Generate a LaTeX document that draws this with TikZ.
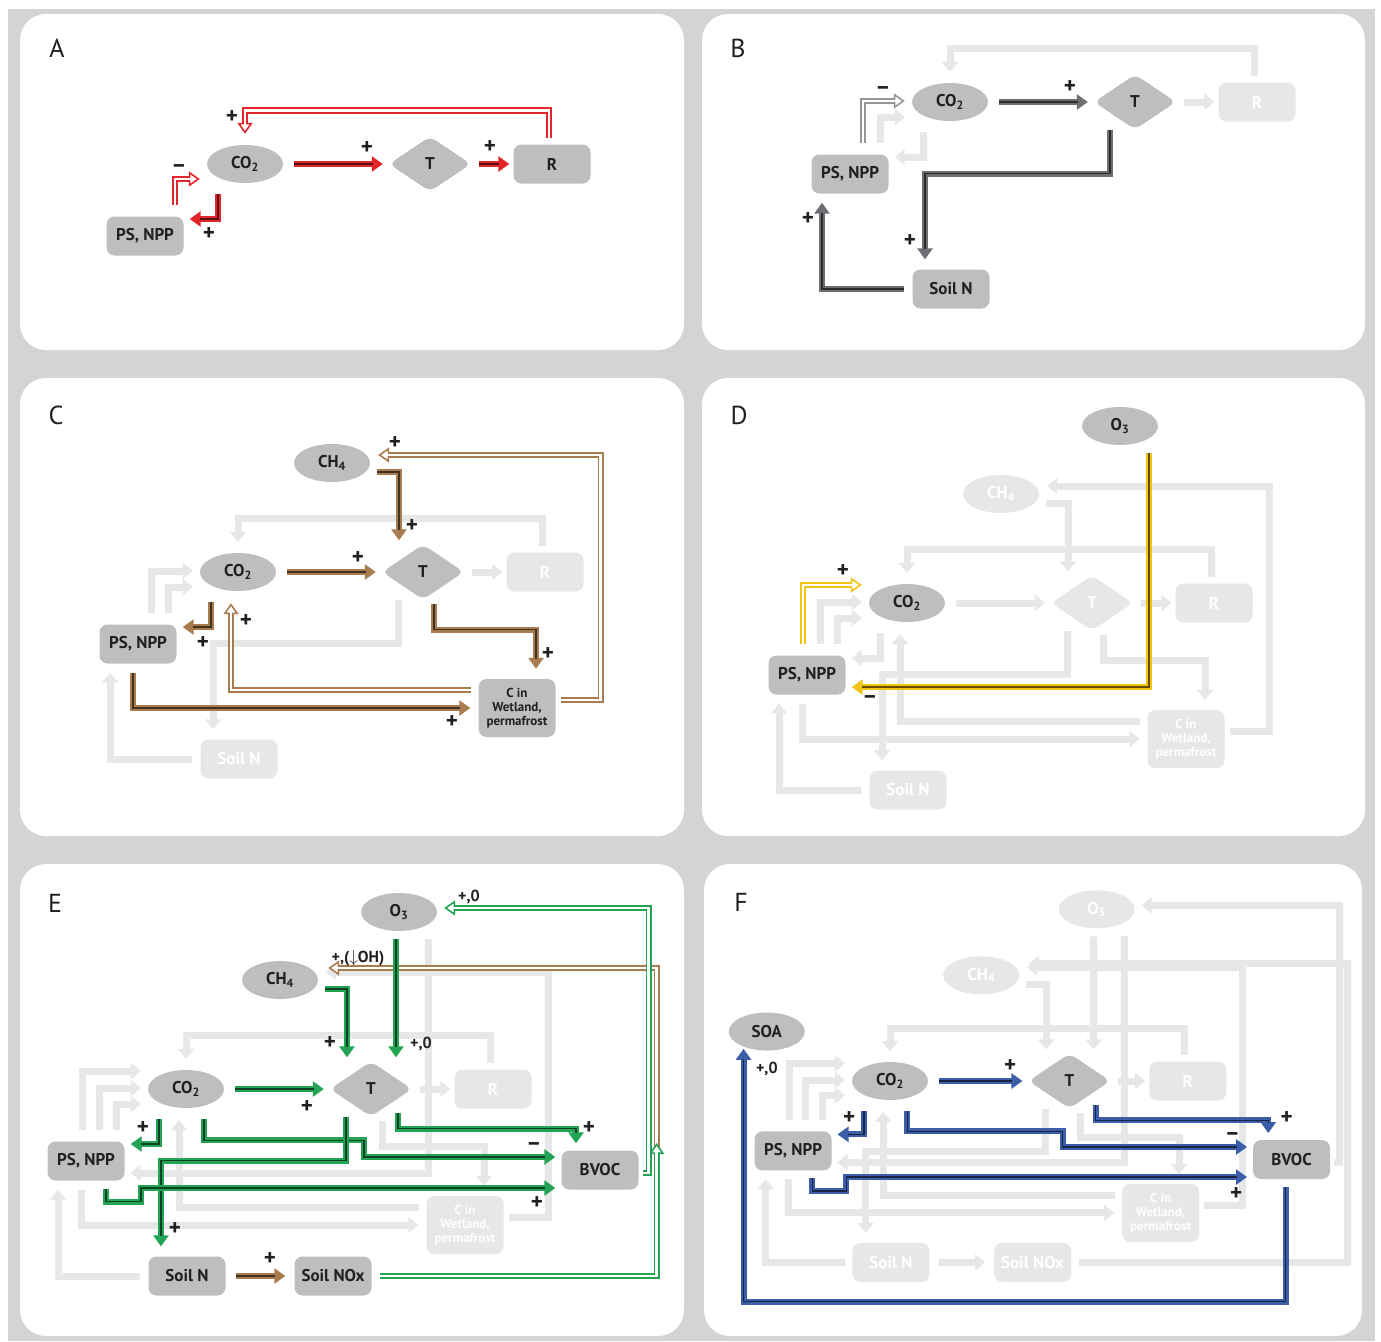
\documentclass[tikz,border=0pt]{standalone}
\usepackage{fontspec}
\setmainfont{PT Sans}
\usepackage{xcolor}
\usepackage{tikz}
\usetikzlibrary{shapes.geometric,arrows.meta}

\definecolor{frame}{HTML}{D3D4D6}
\definecolor{ndgray}{HTML}{BCBEC0}
\definecolor{fgray}{HTML}{E6E7E8}
\definecolor{ink}{HTML}{231F20}
\definecolor{fbred}{HTML}{E2252B}
\definecolor{fbgray}{HTML}{6D6E71}
\definecolor{fbgrayl}{HTML}{939598}
\definecolor{fbbrown}{HTML}{A97C50}
\definecolor{fbyellow}{HTML}{F4C414}
\definecolor{fbgreen}{HTML}{23A455}
\definecolor{fbblue}{HTML}{3C5DA8}

\tikzset{
  nd/.style={fill=ndgray, text=ink, font=\bfseries\fontsize{17}{18}\selectfont, inner sep=0pt},
  rbox/.style={nd, rectangle, rounded corners=8pt, minimum width=77pt, minimum height=39pt},
  oval/.style={nd, ellipse, minimum width=76pt, minimum height=38pt},
  dia/.style={nd, diamond, rounded corners=7pt, minimum width=82pt, minimum height=55pt},
  wet/.style={rbox, minimum height=58pt, align=center, font=\bfseries\fontsize{13}{14}\selectfont},
  pale/.style={fill=fgray, text=white},
  sg/.style={font=\bfseries\fontsize{23}{23}\selectfont, text=ink, inner sep=0pt},
  sgs/.style={font=\bfseries\fontsize{16}{16}\selectfont, text=ink, inner sep=0pt},
  panel/.style={fill=white, rounded corners=26pt},
  letter/.style={font=\fontsize{26}{26}\selectfont, text=ink, inner sep=0pt},
  fnt/.style={draw=fgray, line width=7pt, -{Triangle[length=10pt,width=16pt]}},
  sol/.style={draw=#1, line width=6pt, -{Triangle[length=11pt,width=15pt]},
    postaction={draw=#1!40!black, line width=1.4pt, -, shorten >=10pt}},
  hol/.style={draw=#1, line width=6.4pt, -{Triangle[length=11pt,width=15pt,open,fill=white,line width=1.6pt]},
    postaction={draw=white, line width=2.6pt, -, shorten >=8pt}},
}

\begin{document}
\begin{tikzpicture}[x=1pt, y=-1pt]
    \useasboundingbox (0,0) rectangle (1381,1341);
    \fill[white] (0,0) rectangle (1381,1341);
    \fill[frame] (8,9) rectangle (1375,1341);
    \fill[panel] (20,14) rectangle (684,350);
    \fill[panel] (702,14) rectangle (1365,350);
    \fill[panel] (20,378) rectangle (684,836);
    \fill[panel] (702,378) rectangle (1365,836);
    \fill[panel] (20,864) rectangle (684,1336);
    \fill[panel] (704,864) rectangle (1362,1336);
    \node (tagA) [letter] at (57,48) {A};
    \node (tagB) [letter] at (738,48) {B};
    \node (tagC) [letter] at (56,415) {C};
    \node (tagD) [letter] at (739,415) {D};
    \node (tagE) [letter] at (55,903) {E};
    \node (tagF) [letter] at (741,902) {F};

    \begin{scope}[shift={(245,164)}]
        \node (aCO) [oval] at (0,0) {CO\textsubscript{2}};
        \node (aT) [dia] at (185,0) {T};
        \node (aR) [rbox] at (307,0) {R};
        \node (aPS) [rbox] at (-100,72) {PS, NPP};
        \draw [sol=fbred] ([xshift=11]aCO.east) -- ([xshift=-6]aT.west);
        \draw [sol=fbred] ([xshift=8]aT.east) -- ([xshift=-4]aR.west);
        \draw [hol=fbred] ([xshift=-3,yshift=6]aR.north) -- ++(0,-28) -| ([yshift=11]aCO.north);
        \draw [hol=fbred] ([xshift=30,yshift=11]aPS.north) |- ([xshift=-7,yshift=-15]aCO.west);
        \draw [sol=fbred] ([xshift=-27,yshift=-11]aCO.south) |- ([xshift=6,yshift=17]aPS.east);
        \node (aL1) [sg] at (122,-16) {+};
        \node (aL2) [sg] at (245,-17) {+};
        \node (aL3) [sg] at (-13,-47) {+};
        \node (aL4) [sg] at (-66,5) {–};
        \node (aL5) [sg] at (-36,70) {+};
    \end{scope}

    \begin{scope}[shift={(950,102)}]
        \node (bCO) [oval] at (0,0) {CO\textsubscript{2}};
        \node (bT) [dia] at (185,0) {T};
        \node (bR) [rbox, pale] at (307,0) {R};
        \node (bPS) [rbox] at (-100,72) {PS, NPP};
        \node (bN) [rbox] at (1,187) {Soil N};
        \draw [fnt] ([xshift=8]bT.east) -- ([xshift=-4]bR.west);
        \draw [fnt] ([xshift=-3,yshift=6]bR.north) -- ++(0,-28) -| ([yshift=11]bCO.north);
        \draw [fnt] ([xshift=30,yshift=11]bPS.north) |- ([xshift=-7,yshift=-15]bCO.west);
        \draw [fnt] ([xshift=-27,yshift=-11]bCO.south) |- ([xshift=6,yshift=17]bPS.east);
        \draw [sol=fbgray] ([xshift=11]bCO.east) -- ([xshift=-6]bT.west);
        \draw [hol=fbgrayl] ([xshift=13,yshift=11]bPS.north) |- ([xshift=-7,yshift=1]bCO.west);
        \draw [sol=fbgray] ([xshift=-25]bT.south) -- ++(0,44) -| ([xshift=-26,yshift=10]bN.north);
        \draw [sol=fbgray] ([xshift=-8]bN.west) -| ([xshift=-28,yshift=-9]bPS.south);
        \node (bL1) [sg] at (120,-15) {+};
        \node (bL2) [sg] at (-67,-11) {–};
        \node (bL3) [sg] at (-40,139) {+};
        \node (bL4) [sg] at (-142,117) {+};
    \end{scope}

    \begin{scope}[shift={(238,572)}]
        \node (cCH) [oval] at (94,-109) {CH\textsubscript{4}};
        \node (cCO) [oval] at (0,0) {CO\textsubscript{2}};
        \node (cT) [dia] at (185,0) {T};
        \node (cR) [rbox, pale] at (307,0) {R};
        \node (cPS) [rbox] at (-100,72) {PS, NPP};
        \node (cW) [wet] at (279,136) {C in\\Wetland,\\permafrost};
        \node (cN) [rbox, pale] at (1,187) {Soil N};
        \draw [fnt] ([xshift=8]cT.east) -- ([xshift=-4]cR.west);
        \draw [fnt] ([xshift=-3,yshift=6]cR.north) -- ++(0,-28) -| ([yshift=11]cCO.north);
        \draw [fnt] ([xshift=13,yshift=11]cPS.north) |- ([xshift=-7,yshift=1]cCO.west);
        \draw [fnt] ([xshift=30,yshift=11]cPS.north) |- ([xshift=-7,yshift=-15]cCO.west);
        \draw [fnt] ([xshift=-25]cT.south) -- ++(0,44) -| ([xshift=-26,yshift=10]cN.north);
        \draw [fnt] ([xshift=-8]cN.west) -| ([xshift=-28,yshift=-9]cPS.south);
        \draw [sol=fbbrown] ([xshift=11]cCO.east) -- ([xshift=-6]cT.west);
        \draw [sol=fbbrown] ([xshift=7,yshift=-9]cCH.east) -| ([xshift=-24,yshift=4]cT.north);
        \draw [hol=fbbrown] ([xshift=5,yshift=8]cW.east) -- ++(40,0) |- ([xshift=8,yshift=8]cCH.east);
        \draw [sol=fbbrown] ([xshift=-27,yshift=-11]cCO.south) |- ([xshift=6,yshift=17]cPS.east);
        \draw [hol=fbbrown] ([xshift=-7,yshift=18]cW.west) -| ([xshift=-7,yshift=-12]cCO.south);
        \draw [sol=fbbrown] ([xshift=11,yshift=-4]cT.south) -- ++(0,26) -| ([xshift=19,yshift=10]cW.north);
        \draw [sol=fbbrown] ([xshift=-5,yshift=-9]cPS.south) |- ([xshift=-8]cW.west);
        \node (cL1) [sg] at (120,-14) {+};
        \node (cL2) [sg] at (174,-46) {+};
        \node (cL3) [sg] at (157,-129) {+};
        \node (cL4) [sg] at (-35,71) {+};
        \node (cL5) [sg] at (8,49) {+};
        \node (cL6) [sg] at (310,82) {+};
        \node (cL7) [sg] at (214,150) {+};
    \end{scope}

    \begin{scope}[shift={(907,603)}]
        \node (dO3) [oval] at (213,-177) {O\textsubscript{3}};
        \node (dCH) [oval, pale] at (94,-109) {CH\textsubscript{4}};
        \node (dCO) [oval] at (0,0) {CO\textsubscript{2}};
        \node (dT) [dia, pale] at (185,0) {T};
        \node (dR) [rbox, pale] at (307,0) {R};
        \node (dPS) [rbox] at (-100,72) {PS, NPP};
        \node (dW) [wet, pale] at (279,136) {C in\\Wetland,\\permafrost};
        \node (dN) [rbox, pale] at (1,187) {Soil N};
        \draw [fnt] ([xshift=11]dCO.east) -- ([xshift=-6]dT.west);
        \draw [fnt] ([xshift=8]dT.east) -- ([xshift=-4]dR.west);
        \draw [fnt] ([xshift=-3,yshift=6]dR.north) -- ++(0,-28) -| ([yshift=11]dCO.north);
        \draw [fnt] ([xshift=13,yshift=11]dPS.north) |- ([xshift=-7,yshift=1]dCO.west);
        \draw [fnt] ([xshift=30,yshift=11]dPS.north) |- ([xshift=-7,yshift=-15]dCO.west);
        \draw [fnt] ([xshift=-27,yshift=-11]dCO.south) |- ([xshift=6,yshift=17]dPS.east);
        \draw [fnt] ([xshift=-25]dT.south) -- ++(0,44) -| ([xshift=-26,yshift=10]dN.north);
        \draw [fnt] ([xshift=-8]dN.west) -| ([xshift=-28,yshift=-9]dPS.south);
        \draw [fnt] ([xshift=7,yshift=-9]dCH.east) -| ([xshift=-24,yshift=4]dT.north);
        \draw [fnt] ([xshift=5,yshift=8]dW.east) -- ++(40,0) |- ([xshift=8,yshift=8]dCH.east);
        \draw [fnt] ([xshift=11,yshift=-4]dT.south) -- ++(0,26) -| ([xshift=19,yshift=10]dW.north);
        \draw [fnt] ([xshift=-7,yshift=18]dW.west) -| ([xshift=-7,yshift=-12]dCO.south);
        \draw [fnt] ([xshift=-5,yshift=-9]dPS.south) |- ([xshift=-8]dW.west);
        \draw [sol=fbyellow] ([xshift=29,yshift=-8]dO3.south) |- ([xshift=6,yshift=-12]dPS.east);
        \draw [hol=fbyellow] ([xshift=-4,yshift=11]dPS.north) |- ([xshift=-7,yshift=18]dCO.west);
        \node (dL1) [sg] at (-37,97) {–};
        \node (dL2) [sg] at (-64,-32) {+};
    \end{scope}

    \begin{scope}[shift={(186,1089)}]
        \node (eO3) [oval] at (213,-177) {O\textsubscript{3}};
        \node (eCH) [oval] at (94,-109) {CH\textsubscript{4}};
        \node (eCO) [oval] at (0,0) {CO\textsubscript{2}};
        \node (eT) [dia] at (185,0) {T};
        \node (eR) [rbox, pale] at (307,0) {R};
        \node (ePS) [rbox] at (-100,72) {PS, NPP};
        \node (eBV) [rbox] at (414,81) {BVOC};
        \node (eW) [wet, pale] at (279,136) {C in\\Wetland,\\permafrost};
        \node (eN) [rbox] at (1,187) {Soil N};
        \node (eNO) [rbox] at (147,187) {Soil NOx};
        \draw [fnt] ([xshift=8]eT.east) -- ([xshift=-4]eR.west);
        \draw [fnt] ([xshift=-3,yshift=6]eR.north) -- ++(0,-28) -| ([yshift=11]eCO.north);
        \draw [fnt] ([xshift=-4,yshift=11]ePS.north) |- ([xshift=-7,yshift=18]eCO.west);
        \draw [fnt] ([xshift=13,yshift=11]ePS.north) |- ([xshift=-7,yshift=1]eCO.west);
        \draw [fnt] ([xshift=30,yshift=11]ePS.north) |- ([xshift=-7,yshift=-15]eCO.west);
        \draw [fnt] ([xshift=-8]eN.west) -| ([xshift=-28,yshift=-9]ePS.south);
        \draw [fnt] ([xshift=5,yshift=8]eW.east) -- ++(40,0) |- ([xshift=8,yshift=8]eCH.east);
        \draw [fnt] ([xshift=11,yshift=-4]eT.south) -- ++(0,26) -| ([xshift=19,yshift=10]eW.north);
        \draw [fnt] ([xshift=-7,yshift=18]eW.west) -| ([xshift=-7,yshift=-12]eCO.south);
        \draw [fnt] ([xshift=-5,yshift=-9]ePS.south) |- ([xshift=-8]eW.west);
        \draw [fnt] ([xshift=29,yshift=-8]eO3.south) |- ([xshift=6,yshift=-12]ePS.east);
        \draw [hol=fbbrown] ([xshift=8]eNO.east) -- ++(277,0) |- ([xshift=10,yshift=12]eCH.east);
        \draw [hol=fbgreen] ([xshift=8]eNO.east) -- ++(277,0) -- ++(0,-133);
        \draw [hol=fbgreen] ([xshift=4,yshift=-3]eBV.east) -- ++(6,0) |- ([xshift=7,yshift=4]eO3.east);
        \draw [sol=fbgreen] ([xshift=11]eCO.east) -- ([xshift=-6]eT.west);
        \draw [sol=fbgreen] ([xshift=7,yshift=-9]eCH.east) -| ([xshift=-24,yshift=4]eT.north);
        \draw [sol=fbgreen] ([xshift=-3,yshift=-8]eO3.south) -- ([xshift=25,yshift=4]eT.north);
        \draw [sol=fbgreen] ([xshift=27,yshift=4]eT.south) -- ++(0,16) -| ([xshift=-24,yshift=7]eBV.north);
        \draw [sol=fbgreen] ([xshift=18,yshift=-11]eCO.south) -- ++(0,21) -- ++(160,0) |- ([xshift=-6,yshift=13]eBV.west);
        \draw [sol=fbgreen] ([xshift=-27,yshift=-11]eCO.south) |- ([xshift=6,yshift=17]ePS.east);
        \draw [sol=fbgreen] ([xshift=-25]eT.south) -- ++(0,44) -| ([xshift=-26,yshift=10]eN.north);
        \draw [sol=fbgreen] ([xshift=20,yshift=-8]ePS.south) -- ++(0,13) -- ++(35,0) |- ([xshift=-6,yshift=-18]eBV.west);
        \draw [sol=fbbrown] ([xshift=10]eN.east) -- ([xshift=-9]eNO.west);
        \node (eL1) [sgs] at (235,-45) {+,0};
        \node (eL2) [sg] at (144,-46) {+};
        \node (eL3) [sg] at (121,18) {+};
        \node (eL4) [sg] at (403,39) {+};
        \node (eL5) [sg] at (348,58) {–};
        \node (eL6) [sg] at (351,114) {+};
        \node (eL7) [sg] at (-43,39) {+};
        \node (eL8) [sg] at (-11,140) {+};
        \node (eL9) [sg] at (84,170) {+};
        \node (eL10) [sgs] at (283,-192) {+,0};
        \node (eL11) [sgs] at (172,-131) {+,($\downarrow$OH)};
    \end{scope}

    \begin{scope}[shift={(890,1081)}, scale=0.97]
        \node (fSOA) [oval] at (-127,-51) {SOA};
        \node (fO3) [oval, pale] at (213,-177) {O\textsubscript{3}};
        \node (fCH) [oval, pale] at (94,-109) {CH\textsubscript{4}};
        \node (fCO) [oval] at (0,0) {CO\textsubscript{2}};
        \node (fT) [dia] at (185,0) {T};
        \node (fR) [rbox, pale] at (307,0) {R};
        \node (fPS) [rbox] at (-100,72) {PS, NPP};
        \node (fBV) [rbox] at (414,81) {BVOC};
        \node (fW) [wet, pale] at (279,136) {C in\\Wetland,\\permafrost};
        \node (fN) [rbox, pale] at (1,187) {Soil N};
        \node (fNO) [rbox, pale] at (147,187) {Soil NOx};
        \draw [fnt] ([xshift=8]fT.east) -- ([xshift=-4]fR.west);
        \draw [fnt] ([xshift=-3,yshift=6]fR.north) -- ++(0,-28) -| ([yshift=11]fCO.north);
        \draw [fnt] ([xshift=-4,yshift=11]fPS.north) |- ([xshift=-7,yshift=18]fCO.west);
        \draw [fnt] ([xshift=13,yshift=11]fPS.north) |- ([xshift=-7,yshift=1]fCO.west);
        \draw [fnt] ([xshift=30,yshift=11]fPS.north) |- ([xshift=-7,yshift=-15]fCO.west);
        \draw [fnt] ([xshift=-25]fT.south) -- ++(0,44) -| ([xshift=-26,yshift=10]fN.north);
        \draw [fnt] ([xshift=-8]fN.west) -| ([xshift=-28,yshift=-9]fPS.south);
        \draw [fnt] ([xshift=7,yshift=-9]fCH.east) -| ([xshift=-24,yshift=4]fT.north);
        \draw [fnt] ([xshift=5,yshift=8]fW.east) -- ++(40,0) |- ([xshift=8,yshift=8]fCH.east);
        \draw [fnt] ([xshift=11,yshift=-4]fT.south) -- ++(0,26) -| ([xshift=19,yshift=10]fW.north);
        \draw [fnt] ([xshift=-7,yshift=18]fW.west) -| ([xshift=-7,yshift=-12]fCO.south);
        \draw [fnt] ([xshift=-5,yshift=-9]fPS.south) |- ([xshift=-8]fW.west);
        \draw [fnt] ([xshift=29,yshift=-8]fO3.south) |- ([xshift=6,yshift=-12]fPS.east);
        \draw [fnt] ([xshift=-3,yshift=-8]fO3.south) -- ([xshift=25,yshift=4]fT.north);
        \draw [fnt] ([xshift=10]fN.east) -- ([xshift=-9]fNO.west);
        \draw [fnt] ([xshift=8]fNO.east) -- ++(277,0) |- ([xshift=10,yshift=12]fCH.east);
        \draw [fnt] ([xshift=4,yshift=-3]fBV.east) -- ++(6,0) |- ([xshift=7,yshift=4]fO3.east);
        \draw [sol=fbblue] ([xshift=11]fCO.east) -- ([xshift=-6]fT.west);
        \draw [sol=fbblue] ([xshift=27,yshift=4]fT.south) -- ++(0,16) -| ([xshift=-24,yshift=7]fBV.north);
        \draw [sol=fbblue] ([xshift=18,yshift=-11]fCO.south) -- ++(0,21) -- ++(160,0) |- ([xshift=-6,yshift=13]fBV.west);
        \draw [sol=fbblue] ([xshift=-27,yshift=-11]fCO.south) |- ([xshift=6,yshift=17]fPS.east);
        \draw [sol=fbblue] ([xshift=20,yshift=-8]fPS.south) -- ++(0,13) -- ++(35,0) |- ([xshift=-6,yshift=-18]fBV.west);
        \draw [sol=fbblue] ([xshift=-6,yshift=-8]fBV.south) -- ++(0,118) -| ([xshift=-24,yshift=2]fSOA.south);
        \node (fL1) [sg] at (124,-15) {+};
        \node (fL2) [sg] at (409,38) {+};
        \node (fL3) [sg] at (353,57) {–};
        \node (fL4) [sg] at (357,116) {+};
        \node (fL5) [sg] at (-42,38) {+};
        \node (fL6) [sgs] at (-127,-12) {+,0};
    \end{scope}
\end{tikzpicture}
\end{document}
